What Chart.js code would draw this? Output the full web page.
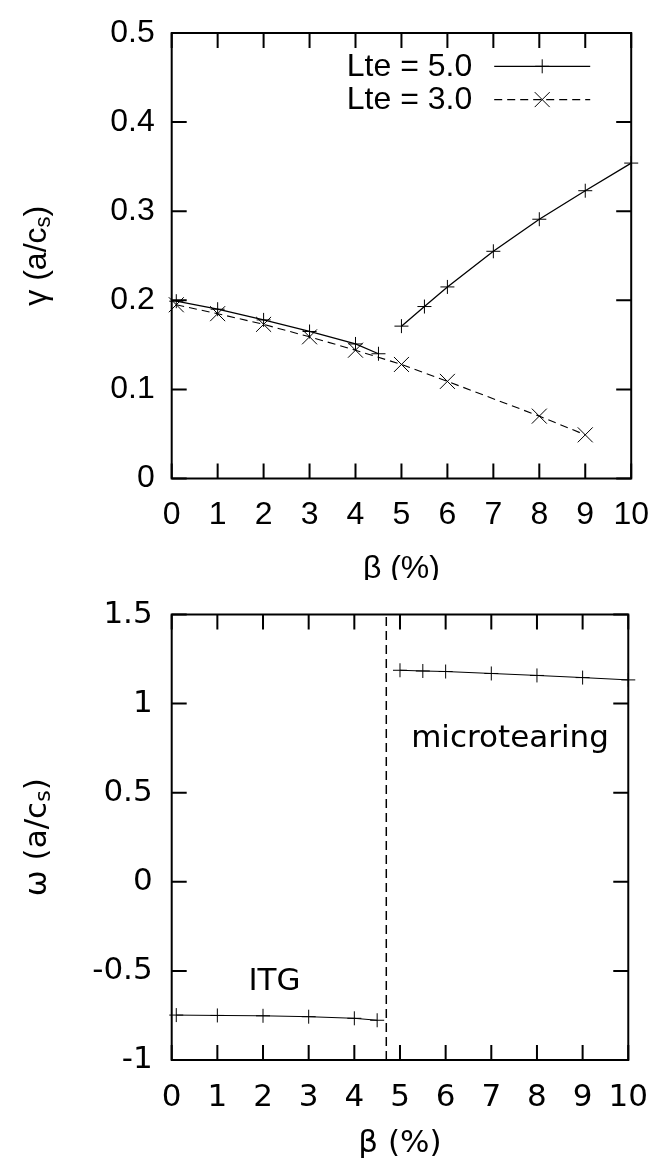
<!DOCTYPE html>
<html>
<head>
<meta charset="utf-8">
<script src="https://cdn.jsdelivr.net/npm/chart.js@4/dist/chart.umd.min.js"></script>
<style>
html, body { margin: 0; padding: 0; background: #fff; }
#top { position: absolute; left: 0; top: 0; width: 670px; height: 580px; }
#bot { position: absolute; left: 0; top: 580px; width: 670px; height: 584px; }
</style>
</head>
<body>
<div id="top"><canvas id="growth" width="670" height="580"></canvas></div>
<div id="bot"><canvas id="freq" width="670" height="584"></canvas></div>
<script>
// growth rate, Lte = 5.0 (two branches, ITG then microtearing)
let betaLte5Itg = [0.1, 1, 2, 3, 4, 4.5];
let gammaLte5Itg = [0.199, 0.190, 0.178, 0.165, 0.151, 0.140];
let betaLte5Mtm = [5, 5.5, 6, 7, 8, 9, 10];
let gammaLte5Mtm = [0.171, 0.193, 0.215, 0.255, 0.291, 0.323, 0.354];

// growth rate, Lte = 3.0
let betaLte3 = [0.1, 1, 2, 3, 4, 5, 6, 8, 9];
let gammaLte3 = [0.195, 0.185, 0.173, 0.159, 0.144, 0.128, 0.109, 0.070, 0.049];

// real frequency
let betaItg = [0.1, 1, 2, 3, 4, 4.5];
let omegaItg = [-0.748, -0.750, -0.752, -0.757, -0.766, -0.777];
let betaMtm = [5, 5.5, 6, 7, 8, 9, 10];
let omegaMtm = [1.187, 1.183, 1.180, 1.169, 1.158, 1.146, 1.133];

// mode boundary
let boundaryBeta = [4.7, 4.7];
let boundaryOmega = [-1, 1.5];

let betaTicks = [0, 1, 2, 3, 4, 5, 6, 7, 8, 9, 10];
let gammaTicks = [0, 0.1, 0.2, 0.3, 0.4, 0.5];
let omegaTicks = [-1, -0.5, 0, 0.5, 1, 1.5];

function pts(xs, ys) {
    return xs.map((x, i) => ({ x: x, y: ys[i] }));
}

function drawMarker(ctx, style, x, y) {
    ctx.beginPath();
    if (style === 'cross') {
        ctx.moveTo(x - 7, y); ctx.lineTo(x + 7, y);
        ctx.moveTo(x, y - 7); ctx.lineTo(x, y + 7);
    } else {
        ctx.moveTo(x - 7.5, y - 7.5); ctx.lineTo(x + 7.5, y + 7.5);
        ctx.moveTo(x - 7.5, y + 7.5); ctx.lineTo(x + 7.5, y - 7.5);
    }
    ctx.stroke();
}

// gnuplot look: frame, inward ticks on all sides, titles, key, labels
const gnuplotLook = {
    id: 'gp',
    beforeDatasetsDraw(chart) {
        const ctx = chart.ctx, a = chart.chartArea;
        const sx = chart.scales.x, sy = chart.scales.y;
        ctx.save();
        ctx.strokeStyle = '#000';
        ctx.lineWidth = 2;
        ctx.strokeRect(a.left, a.top, a.right - a.left, a.bottom - a.top);
        ctx.beginPath();
        sx.ticks.forEach(t => {
            let p = sx.getPixelForValue(t.value);
            ctx.moveTo(p, a.bottom); ctx.lineTo(p, a.bottom - 15);
            ctx.moveTo(p, a.top); ctx.lineTo(p, a.top + 15);
        });
        sy.ticks.forEach(t => {
            let p = sy.getPixelForValue(t.value);
            ctx.moveTo(a.left, p); ctx.lineTo(a.left + 15, p);
            ctx.moveTo(a.right, p); ctx.lineTo(a.right - 15, p);
        });
        ctx.stroke();
        ctx.restore();
    },
    afterDraw(chart, args, opts) {
        const ctx = chart.ctx, a = chart.chartArea;
        const sx = chart.scales.x, sy = chart.scales.y;
        const fam = opts.family, size = opts.size;
        ctx.save();
        ctx.fillStyle = '#000';
        ctx.font = size + 'px "' + fam + '"';

        // x title
        ctx.textAlign = 'center';
        ctx.textBaseline = 'middle';
        ctx.fillText(opts.xTitle, (a.left + a.right) / 2, a.bottom + opts.xTitleGap);

        // y title with subscript, rotated
        ctx.save();
        ctx.translate(opts.yTitleX, (a.top + a.bottom) / 2);
        ctx.rotate(-Math.PI / 2);
        ctx.textBaseline = 'alphabetic';
        ctx.textAlign = 'left';
        const main = opts.yTitle[0], sub = opts.yTitle[1], tail = opts.yTitle[2];
        const subFont = Math.round(size * 0.7) + 'px "' + fam + '"';
        let w1 = ctx.measureText(main).width;
        ctx.font = subFont;
        let w2 = ctx.measureText(sub).width;
        ctx.font = size + 'px "' + fam + '"';
        let w3 = ctx.measureText(tail).width;
        let x0 = -(w1 + w2 + w3) / 2;
        ctx.fillText(main, x0, 0);
        ctx.font = subFont;
        ctx.fillText(sub, x0 + w1, 4);
        ctx.font = size + 'px "' + fam + '"';
        ctx.fillText(tail, x0 + w1 + w2, 0);
        ctx.restore();

        // text labels placed in data coordinates
        (opts.notes || []).forEach(n => {
            ctx.textAlign = 'center';
            ctx.textBaseline = 'alphabetic';
            ctx.fillText(n.text, sx.getPixelForValue(n.x), sy.getPixelForValue(n.y));
        });

        // key, top right: text then line sample with marker
        if (opts.key) {
            let row = 0;
            chart.data.datasets.forEach(ds => {
                if (!ds.inKey) return;
                let y = a.top + 33.3 * (row + 1);
                ctx.textAlign = 'right';
                ctx.textBaseline = 'middle';
                ctx.fillText(ds.label, a.right - 159, y + 1);
                ctx.strokeStyle = '#000';
                ctx.lineWidth = 1.2;
                ctx.setLineDash(ds.borderDash || []);
                ctx.beginPath();
                ctx.moveTo(a.right - 137, y);
                ctx.lineTo(a.right - 41, y);
                ctx.stroke();
                ctx.setLineDash([]);
                ctx.lineWidth = 1;
                drawMarker(ctx, ds.pointStyle, a.right - 89, y);
                row++;
            });
        }
        ctx.restore();
    }
};

function axes(yTicks, family, size, xHeight, yPad, xPad) {
    return {
        x: {
            type: 'linear', min: 0, max: 10,
            afterBuildTicks: s => { s.ticks = betaTicks.map(v => ({ value: v })); },
            afterFit: s => { s.height = xHeight; },
            grid: { display: false, drawTicks: false },
            border: { display: false },
            ticks: { autoSkip: false, maxRotation: 0, padding: xPad, color: '#000',
                     font: { family: family, size: size, lineHeight: 1 },
                     callback: v => String(v) }
        },
        y: {
            type: 'linear', min: yTicks[0], max: yTicks[yTicks.length - 1],
            afterBuildTicks: s => { s.ticks = yTicks.map(v => ({ value: v })); },
            afterFit: s => { s.width = 171.7; },
            grid: { display: false, drawTicks: false },
            border: { display: false },
            ticks: { autoSkip: false, padding: yPad, color: '#000',
                     font: { family: family, size: size, lineHeight: 1 },
                     callback: v => String(v) }
        }
    };
}

let growthChart = new Chart(document.getElementById('growth').getContext('2d'), {
    type: 'scatter',
    data: {
        datasets: [{
            label: 'Lte = 5.0', inKey: true,
            data: pts(betaLte5Itg, gammaLte5Itg),
            showLine: true, borderColor: '#000', borderWidth: 1.3,
            pointStyle: 'cross', pointRadius: 7, pointBorderWidth: 1, pointBorderColor: '#000',
            clip: false
        }, {
            label: 'Lte = 5.0',
            data: pts(betaLte5Mtm, gammaLte5Mtm),
            showLine: true, borderColor: '#000', borderWidth: 1.3,
            pointStyle: 'cross', pointRadius: 7, pointBorderWidth: 1, pointBorderColor: '#000',
            clip: false
        }, {
            label: 'Lte = 3.0', inKey: true,
            data: pts(betaLte3, gammaLte3),
            showLine: true, borderColor: '#000', borderWidth: 1.1, borderDash: [8, 5],
            pointStyle: 'crossRot', pointRadius: 10.6, pointBorderWidth: 1, pointBorderColor: '#000',
            clip: false
        }]
    },
    options: {
        responsive: false, animation: false,
        layout: { padding: { top: 16.7, right: 29.3, left: 0, bottom: 0 } },
        scales: axes(gammaTicks, 'Liberation Sans', 32, 101.5, 17, 21),
        plugins: {
            legend: { display: false }, tooltip: { enabled: false },
            gp: { family: 'Liberation Sans', size: 32, xTitle: 'β (%)', xTitleGap: 91,
                  yTitle: ['γ (a/c', 's', ')'], yTitleX: 46, key: true }
        }
    },
    plugins: [gnuplotLook]
});

let freqChart = new Chart(document.getElementById('freq').getContext('2d'), {
    type: 'scatter',
    data: {
        datasets: [{
            label: 'ITG',
            data: pts(betaItg, omegaItg),
            showLine: true, borderColor: '#000', borderWidth: 1,
            pointStyle: 'cross', pointRadius: 7, pointBorderWidth: 1, pointBorderColor: '#000',
            clip: false
        }, {
            label: 'microtearing',
            data: pts(betaMtm, omegaMtm),
            showLine: true, borderColor: '#000', borderWidth: 1,
            pointStyle: 'cross', pointRadius: 7, pointBorderWidth: 1, pointBorderColor: '#000',
            clip: false
        }, {
            label: 'boundary',
            data: pts(boundaryBeta, boundaryOmega),
            showLine: true, borderColor: '#000', borderWidth: 1.5, borderDash: [9, 5],
            pointRadius: 0
        }]
    },
    options: {
        responsive: false, animation: false,
        layout: { padding: { top: 16.7, right: 27.7, left: 0, bottom: 0 } },
        scales: axes(omegaTicks, 'DejaVu Sans', 31, 104, 19, 22),
        plugins: {
            legend: { display: false }, tooltip: { enabled: false },
            gp: { family: 'DejaVu Sans', size: 31, xTitle: 'β (%)', xTitleGap: 84,
                  yTitle: ['ω (a/c', 's', ')'], yTitleX: 46, key: false,
                  notes: [{ text: 'ITG', x: 2.25, y: -0.608 },
                          { text: 'microtearing', x: 7.41, y: 0.759 }] }
        }
    },
    plugins: [gnuplotLook]
});
</script>
</body>
</html>
